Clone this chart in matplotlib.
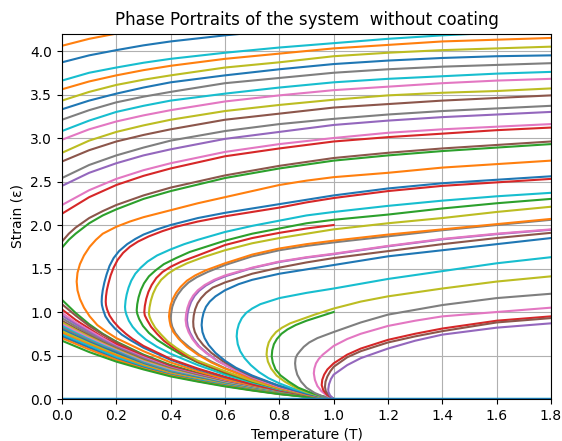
import matplotlib
matplotlib.use("Agg")
import matplotlib.pyplot as plt

# Upper branches that enter through the left edge (T = 0), top to bottom
edge_colors = ["tab:orange", "tab:blue", "tab:cyan", "tab:orange", "tab:olive",
               "tab:blue", "tab:gray", "tab:cyan", "tab:pink", "tab:olive",
               "tab:brown", "tab:gray", "tab:purple", "tab:pink", "tab:red",
               "tab:brown", "tab:green"]
grid_t = [0.0, 0.1, 0.2, 0.3, 0.4, 0.6, 0.8, 1.0, 1.2, 1.4, 1.6, 1.8]
fine_t = [0.0, 0.025, 0.05, 0.1, 0.15, 0.2, 0.3, 0.4, 0.6, 0.8, 1.0, 1.2, 1.4, 1.6, 1.8]
edge_t = [[0.0, 0.1, 0.2, 0.3], [0.0, 0.1, 0.2, 0.3, 0.4, 0.6, 0.8]] + [grid_t] * 13 + [fine_t] * 2
edge_eps = [
    [4.06, 4.14, 4.20, 4.25],
    [3.87, 3.95, 4.01, 4.065, 4.11, 4.18, 4.24],
    [3.66, 3.75, 3.81, 3.865, 3.91, 3.98, 4.04, 4.09, 4.14, 4.18, 4.21, 4.24],
    [3.56, 3.65, 3.72, 3.78, 3.83, 3.91, 3.97, 4.03, 4.07, 4.11, 4.13, 4.15],
    [3.43, 3.53, 3.61, 3.67, 3.72, 3.81, 3.87, 3.94, 3.98, 4.01, 4.03, 4.05],
    [3.33, 3.43, 3.51, 3.58, 3.64, 3.72, 3.79, 3.85, 3.89, 3.92, 3.94, 3.95],
    [3.21, 3.32, 3.41, 3.475, 3.53, 3.63, 3.69, 3.75, 3.79, 3.82, 3.84, 3.86],
    [3.08, 3.20, 3.30, 3.37, 3.43, 3.51, 3.58, 3.64, 3.68, 3.71, 3.74, 3.76],
    [2.98, 3.10, 3.19, 3.26, 3.32, 3.42, 3.49, 3.55, 3.59, 3.63, 3.66, 3.68],
    [2.83, 2.97, 3.07, 3.145, 3.21, 3.31, 3.38, 3.44, 3.49, 3.52, 3.54, 3.57],
    [2.73, 2.86, 2.96, 3.035, 3.10, 3.21, 3.28, 3.35, 3.39, 3.43, 3.46, 3.49],
    [2.54, 2.69, 2.80, 2.89, 2.97, 3.08, 3.16, 3.22, 3.27, 3.31, 3.34, 3.37],
    [2.45, 2.60, 2.71, 2.80, 2.87, 2.99, 3.07, 3.15, 3.20, 3.24, 3.27, 3.30],
    [2.23, 2.40, 2.53, 2.63, 2.71, 2.84, 2.93, 3.00, 3.06, 3.10, 3.13, 3.16],
    [2.13, 2.32, 2.46, 2.565, 2.65, 2.79, 2.88, 2.96, 3.01, 3.05, 3.09, 3.12],
    [1.81, 1.90, 1.97, 2.08, 2.16, 2.23, 2.34, 2.43, 2.57, 2.68, 2.77, 2.83, 2.88, 2.92, 2.96],
    [1.74, 1.83, 1.90, 2.02, 2.11, 2.18, 2.30, 2.39, 2.54, 2.65, 2.74, 2.80, 2.85, 2.89, 2.93],
]

# Lower branches leaving the left edge and running into (1, 0)
fan_t = [0.0, 0.05, 0.1, 0.15, 0.2, 0.3, 0.4, 0.5, 0.6, 0.7, 0.8, 0.9, 1.0]
fan_colors = ["tab:green", "tab:brown", "tab:red", "tab:pink", "tab:purple",
              "tab:gray", "tab:brown", "tab:olive", "tab:pink", "tab:cyan",
              "tab:gray", "tab:blue", "tab:olive", "tab:orange", "tab:cyan",
              "tab:blue", "tab:orange", "tab:green"]
fan_eps = [
    [1.14, 0.99, 0.86, 0.75, 0.66, 0.51, 0.39, 0.30, 0.22, 0.150, 0.090, 0.040, 0.0],
    [1.09, 0.96, 0.84, 0.74, 0.65, 0.50, 0.38, 0.29, 0.215, 0.147, 0.088, 0.039, 0.0],
    [1.03, 0.91, 0.81, 0.71, 0.63, 0.49, 0.37, 0.285, 0.21, 0.144, 0.086, 0.038, 0.0],
    [0.99, 0.88, 0.79, 0.70, 0.61, 0.48, 0.36, 0.28, 0.205, 0.140, 0.084, 0.037, 0.0],
    [0.96, 0.86, 0.77, 0.68, 0.60, 0.47, 0.355, 0.275, 0.20, 0.137, 0.082, 0.036, 0.0],
    [0.93, 0.835, 0.75, 0.665, 0.59, 0.46, 0.35, 0.27, 0.196, 0.134, 0.080, 0.035, 0.0],
    [0.90, 0.81, 0.73, 0.65, 0.58, 0.45, 0.345, 0.265, 0.192, 0.131, 0.078, 0.034, 0.0],
    [0.88, 0.795, 0.715, 0.64, 0.57, 0.44, 0.34, 0.26, 0.188, 0.128, 0.076, 0.033, 0.0],
    [0.86, 0.78, 0.70, 0.63, 0.56, 0.43, 0.33, 0.255, 0.184, 0.125, 0.074, 0.032, 0.0],
    [0.84, 0.76, 0.685, 0.615, 0.55, 0.42, 0.32, 0.25, 0.180, 0.122, 0.072, 0.031, 0.0],
    [0.82, 0.745, 0.67, 0.60, 0.54, 0.41, 0.31, 0.245, 0.176, 0.119, 0.070, 0.030, 0.0],
    [0.80, 0.725, 0.655, 0.59, 0.53, 0.40, 0.30, 0.24, 0.172, 0.116, 0.068, 0.029, 0.0],
    [0.78, 0.71, 0.64, 0.575, 0.51, 0.39, 0.295, 0.232, 0.168, 0.113, 0.066, 0.028, 0.0],
    [0.76, 0.69, 0.625, 0.56, 0.50, 0.38, 0.29, 0.225, 0.164, 0.110, 0.064, 0.027, 0.0],
    [0.74, 0.675, 0.61, 0.545, 0.48, 0.37, 0.28, 0.218, 0.160, 0.107, 0.062, 0.026, 0.0],
    [0.72, 0.655, 0.59, 0.525, 0.46, 0.36, 0.275, 0.21, 0.155, 0.104, 0.060, 0.026, 0.0],
    [0.70, 0.635, 0.57, 0.51, 0.45, 0.35, 0.27, 0.205, 0.150, 0.101, 0.058, 0.025, 0.0],
    [0.67, 0.605, 0.54, 0.485, 0.43, 0.34, 0.26, 0.20, 0.145, 0.098, 0.056, 0.024, 0.0],
]

# Trajectories with a turning point inside the frame, listed from (1, 0)
# along the lower branch, round the nose, then out along the upper branch
nose_colors = ["tab:orange", "tab:blue", "tab:red", "tab:cyan", "tab:green",
               "tab:red", "tab:olive", "tab:gray", "tab:orange", "tab:purple",
               "tab:pink", "tab:brown", "tab:blue", "tab:cyan", "tab:olive",
               "tab:green", "tab:gray", "tab:pink", "tab:red", "tab:brown",
               "tab:purple"]
nose_t = [
    [1.0, 0.9, 0.8, 0.7, 0.6, 0.5, 0.4, 0.3, 0.2, 0.165, 0.13, 0.102, 0.081, 0.066, 0.057, 0.054,
     0.057, 0.066, 0.081, 0.102, 0.125, 0.15, 0.2, 0.25, 0.3, 0.4, 0.5, 0.6, 0.7, 0.8, 0.9, 1.0, 1.2, 1.4, 1.6, 1.8],
    [1.0, 0.9, 0.8, 0.7, 0.6, 0.5, 0.4, 0.3, 0.25, 0.22, 0.195, 0.175, 0.16, 0.151, 0.147, 0.146,
     0.147, 0.15, 0.156, 0.164, 0.175, 0.19, 0.21, 0.24, 0.27, 0.3, 0.35, 0.4, 0.5, 0.6, 0.7, 0.8, 0.9, 1.0, 1.2, 1.4, 1.6, 1.8],
    [1.0, 0.9, 0.8, 0.7, 0.6, 0.5, 0.4, 0.3, 0.26, 0.235, 0.21, 0.19, 0.175, 0.166, 0.162, 0.161,
     0.162, 0.165, 0.171, 0.179, 0.19, 0.205, 0.225, 0.25, 0.28, 0.32, 0.37, 0.42, 0.5, 0.6, 0.7, 0.8, 0.9, 1.0, 1.2, 1.4, 1.6, 1.8],
    [1.0, 0.9, 0.8, 0.7, 0.6, 0.5, 0.4, 0.35, 0.31, 0.28, 0.26, 0.246, 0.237, 0.233, 0.232,
     0.234, 0.238, 0.245, 0.255, 0.27, 0.29, 0.315, 0.35, 0.4, 0.45, 0.5, 0.6, 0.7, 0.8, 0.9, 1.0, 1.2, 1.4, 1.6, 1.8],
    [1.0, 0.9, 0.8, 0.7, 0.6, 0.5, 0.44, 0.39, 0.35, 0.32, 0.298, 0.284, 0.277, 0.275,
     0.277, 0.282, 0.29, 0.302, 0.32, 0.345, 0.375, 0.42, 0.47, 0.54, 0.6, 0.7, 0.8, 0.9, 1.0, 1.2, 1.4, 1.6, 1.8],
    [1.0, 0.9, 0.8, 0.7, 0.6, 0.5, 0.45, 0.41, 0.375, 0.35, 0.328, 0.313, 0.305, 0.303,
     0.305, 0.31, 0.318, 0.33, 0.347, 0.37, 0.4, 0.44, 0.5, 0.6, 0.7, 0.8, 0.9, 1.0],
    [1.0, 0.9, 0.8, 0.7, 0.6, 0.5, 0.46, 0.42, 0.39, 0.365, 0.343, 0.33, 0.323, 0.32,
     0.322, 0.327, 0.335, 0.347, 0.365, 0.39, 0.42, 0.46, 0.52, 0.6, 0.7, 0.8, 0.9, 1.0, 1.2, 1.4, 1.6, 1.8],
    [1.0, 0.9, 0.8, 0.7, 0.6, 0.55, 0.505, 0.467, 0.437, 0.417, 0.406, 0.402, 0.4,
     0.402, 0.406, 0.414, 0.426, 0.443, 0.466, 0.496, 0.536, 0.6, 0.7, 0.8, 0.9, 1.0, 1.2, 1.4, 1.6, 1.8],
    [1.0, 0.9, 0.8, 0.7, 0.6, 0.55, 0.5, 0.46, 0.43, 0.41, 0.4, 0.396, 0.394,
     0.396, 0.4, 0.408, 0.42, 0.437, 0.46, 0.49, 0.53, 0.6, 0.7, 0.8, 0.9, 1.0, 1.2, 1.4, 1.6, 1.8],
    [1.0, 0.9, 0.8, 0.7, 0.625, 0.575, 0.535, 0.505, 0.485, 0.471, 0.463, 0.46,
     0.462, 0.467, 0.475, 0.488, 0.505, 0.53, 0.565, 0.605, 0.7, 0.8, 0.9, 1.0, 1.2, 1.4, 1.6, 1.8],
    [1.0, 0.9, 0.8, 0.7, 0.62, 0.57, 0.53, 0.5, 0.48, 0.466, 0.458, 0.455,
     0.457, 0.462, 0.47, 0.483, 0.5, 0.525, 0.56, 0.6, 0.7, 0.8, 0.9, 1.0, 1.2, 1.4, 1.6, 1.8],
    [1.0, 0.9, 0.8, 0.7, 0.64, 0.59, 0.55, 0.52, 0.5, 0.489, 0.484, 0.483,
     0.485, 0.49, 0.499, 0.512, 0.53, 0.555, 0.6, 0.7, 0.8, 0.9, 1.0, 1.2, 1.4, 1.6, 1.8],
    [1.0, 0.9, 0.8, 0.7, 0.64, 0.6, 0.565, 0.54, 0.525, 0.517, 0.514,
     0.516, 0.521, 0.53, 0.544, 0.565, 0.6, 0.65, 0.7, 0.8, 0.9, 1.0, 1.2, 1.4, 1.6, 1.8],
    [1.0, 0.95, 0.9, 0.85, 0.8, 0.76, 0.725, 0.695, 0.672, 0.656, 0.647, 0.643,
     0.645, 0.651, 0.662, 0.678, 0.7, 0.73, 0.77, 0.8, 0.9, 1.0, 1.2, 1.4, 1.6, 1.8],
    [1.0, 0.95, 0.9, 0.86, 0.82, 0.79, 0.77, 0.758, 0.753,
     0.755, 0.761, 0.772, 0.788, 0.81, 0.84, 0.876, 0.93, 1.0, 1.1, 1.2, 1.4, 1.6, 1.8],
    [1.0, 0.955, 0.91, 0.87, 0.835, 0.805, 0.786, 0.776, 0.772,
     0.774, 0.78, 0.791, 0.808, 0.83, 0.86, 0.9, 0.95, 1.0],
    [1.0, 0.96, 0.93, 0.9, 0.88, 0.866, 0.86, 0.858,
     0.86, 0.866, 0.876, 0.89, 0.91, 0.94, 1.0, 1.1, 1.2, 1.4, 1.6, 1.8],
    [1.0, 0.975, 0.955, 0.94, 0.931, 0.927,
     0.929, 0.935, 0.945, 0.96, 0.98, 1.0, 1.05, 1.1, 1.2, 1.3, 1.4, 1.6, 1.8],
    [1.0, 0.975, 0.962, 0.956, 0.958, 0.965, 0.977, 1.0, 1.05, 1.1, 1.2, 1.3, 1.4, 1.6, 1.8],
    [1.0, 0.982, 0.971, 0.968, 0.970, 0.977, 0.988, 1.0, 1.05, 1.1, 1.2, 1.3, 1.4, 1.6, 1.8],
    [1.0, 0.987, 0.981, 0.98, 0.983, 0.99, 1.0, 1.05, 1.1, 1.2, 1.3, 1.4, 1.6, 1.8],
]
nose_eps = [
    [0.0, 0.045, 0.10, 0.16, 0.23, 0.32, 0.42, 0.55, 0.70, 0.77, 0.85, 0.95, 1.05, 1.15, 1.25, 1.35,
     1.45, 1.55, 1.65, 1.75, 1.83, 1.90, 1.98, 2.04, 2.09, 2.17, 2.25, 2.32, 2.39, 2.46, 2.51, 2.55, 2.60, 2.66, 2.70, 2.74],
    [0.0, 0.045, 0.10, 0.17, 0.25, 0.34, 0.45, 0.59, 0.68, 0.74, 0.81, 0.88, 0.95, 1.03, 1.08, 1.12,
     1.18, 1.25, 1.34, 1.43, 1.53, 1.62, 1.70, 1.78, 1.84, 1.89, 1.95, 2.00, 2.08, 2.14, 2.19, 2.24, 2.29, 2.34, 2.42, 2.48, 2.52, 2.56],
    [0.0, 0.046, 0.10, 0.17, 0.255, 0.35, 0.46, 0.61, 0.69, 0.75, 0.82, 0.89, 0.96, 1.03, 1.08, 1.12,
     1.18, 1.25, 1.33, 1.42, 1.51, 1.60, 1.68, 1.75, 1.81, 1.87, 1.93, 1.98, 2.04, 2.10, 2.15, 2.20, 2.26, 2.31, 2.39, 2.45, 2.49, 2.53],
    [0.0, 0.05, 0.11, 0.19, 0.28, 0.39, 0.52, 0.60, 0.68, 0.76, 0.83, 0.90, 0.97, 1.02, 1.06,
     1.13, 1.20, 1.28, 1.36, 1.44, 1.51, 1.58, 1.65, 1.72, 1.78, 1.83, 1.92, 1.99, 2.05, 2.11, 2.15, 2.22, 2.28, 2.33, 2.37],
    [0.0, 0.05, 0.12, 0.20, 0.30, 0.42, 0.51, 0.60, 0.68, 0.76, 0.84, 0.92, 0.98, 1.02,
     1.09, 1.17, 1.25, 1.33, 1.41, 1.48, 1.55, 1.62, 1.69, 1.76, 1.82, 1.90, 1.96, 2.02, 2.06, 2.12, 2.19, 2.25, 2.30],
    [0.0, 0.05, 0.12, 0.21, 0.31, 0.43, 0.51, 0.59, 0.67, 0.75, 0.83, 0.91, 0.96, 1.00,
     1.07, 1.15, 1.23, 1.31, 1.39, 1.46, 1.52, 1.58, 1.65, 1.77, 1.85, 1.91, 1.96, 2.00],
    [0.0, 0.05, 0.12, 0.21, 0.32, 0.44, 0.51, 0.59, 0.66, 0.74, 0.82, 0.89, 0.94, 0.98,
     1.05, 1.13, 1.21, 1.29, 1.37, 1.44, 1.50, 1.56, 1.63, 1.71, 1.79, 1.85, 1.90, 1.95, 2.02, 2.08, 2.15, 2.21],
    [0.0, 0.056, 0.13, 0.235, 0.355, 0.43, 0.51, 0.60, 0.68, 0.76, 0.83, 0.88, 0.93,
     0.99, 1.06, 1.13, 1.20, 1.27, 1.34, 1.40, 1.46, 1.54, 1.64, 1.71, 1.76, 1.80, 1.87, 1.94, 2.00, 2.06],
    [0.0, 0.055, 0.13, 0.23, 0.35, 0.42, 0.51, 0.60, 0.69, 0.77, 0.84, 0.90, 0.95,
     1.01, 1.08, 1.15, 1.22, 1.29, 1.36, 1.42, 1.48, 1.56, 1.66, 1.73, 1.78, 1.82, 1.89, 1.95, 2.01, 2.07],
    [0.0, 0.06, 0.14, 0.245, 0.355, 0.435, 0.525, 0.605, 0.685, 0.765, 0.835, 0.905,
     0.975, 1.045, 1.115, 1.185, 1.245, 1.305, 1.365, 1.415, 1.505, 1.575, 1.625, 1.665, 1.755, 1.835, 1.895, 1.945],
    [0.0, 0.06, 0.14, 0.25, 0.36, 0.44, 0.53, 0.61, 0.69, 0.77, 0.84, 0.91,
     0.98, 1.05, 1.12, 1.19, 1.25, 1.31, 1.37, 1.42, 1.51, 1.58, 1.63, 1.67, 1.76, 1.84, 1.90, 1.95],
    [0.0, 0.06, 0.15, 0.26, 0.35, 0.44, 0.53, 0.62, 0.70, 0.77, 0.83, 0.89,
     0.96, 1.03, 1.10, 1.16, 1.22, 1.28, 1.34, 1.44, 1.51, 1.57, 1.62, 1.70, 1.78, 1.85, 1.91],
    [0.0, 0.065, 0.15, 0.27, 0.36, 0.44, 0.53, 0.62, 0.70, 0.77, 0.85,
     0.92, 0.99, 1.06, 1.12, 1.18, 1.25, 1.32, 1.37, 1.44, 1.49, 1.54, 1.64, 1.71, 1.78, 1.85],
    [0.0, 0.035, 0.075, 0.12, 0.18, 0.24, 0.31, 0.39, 0.47, 0.55, 0.63, 0.72,
     0.79, 0.86, 0.93, 0.99, 1.04, 1.09, 1.13, 1.16, 1.22, 1.27, 1.38, 1.47, 1.56, 1.63],
    [0.0, 0.035, 0.08, 0.13, 0.20, 0.27, 0.35, 0.43, 0.51,
     0.58, 0.65, 0.71, 0.77, 0.82, 0.87, 0.91, 0.97, 1.04, 1.12, 1.18, 1.27, 1.35, 1.41],
    [0.0, 0.035, 0.08, 0.13, 0.20, 0.27, 0.34, 0.42, 0.49,
     0.56, 0.63, 0.69, 0.75, 0.80, 0.85, 0.90, 0.95, 1.00],
    [0.0, 0.03, 0.07, 0.13, 0.20, 0.28, 0.35, 0.41,
     0.47, 0.51, 0.55, 0.60, 0.65, 0.70, 0.77, 0.88, 0.97, 1.08, 1.16, 1.21],
    [0.0, 0.04, 0.09, 0.15, 0.22, 0.295,
     0.35, 0.41, 0.46, 0.51, 0.56, 0.61, 0.69, 0.75, 0.84, 0.90, 0.95, 1.00, 1.05],
    [0.0, 0.05, 0.10, 0.16, 0.22, 0.28, 0.34, 0.41, 0.51, 0.58, 0.68, 0.75, 0.81, 0.90, 0.95],
    [0.0, 0.045, 0.09, 0.14, 0.20, 0.26, 0.32, 0.37, 0.48, 0.55, 0.65, 0.72, 0.78, 0.88, 0.93],
    [0.0, 0.04, 0.08, 0.11, 0.17, 0.23, 0.28, 0.39, 0.47, 0.58, 0.67, 0.74, 0.82, 0.87],
]

# Trajectories lying on the invariant line eps = 0
axis_colors = ["tab:cyan", "tab:blue"]
axis_t = [0.0, 1.8]
axis_eps = [0.0, 0.0]


fig = plt.figure(figsize=(5.62, 4.41), dpi=100)
ax = fig.add_axes([0.1103, 0.0952, 0.8701, 0.8286])

style = dict(linewidth=1.5, solid_joinstyle="round")
for color, eps in zip(fan_colors, fan_eps):
    ax.plot(fan_t, eps, color=color, **style)
for color, t, eps in zip(nose_colors, nose_t, nose_eps):
    ax.plot(t, eps, color=color, **style)
for color, t, eps in zip(edge_colors, edge_t, edge_eps):
    ax.plot(t, eps, color=color, **style)
for color, lw in zip(axis_colors, [2.5, 1.5]):
    ax.plot(axis_t, axis_eps, color=color, linewidth=lw)

ax.set_xlim(0, 1.8)
ax.set_ylim(0, 4.2)
ax.set_title("Phase Portraits of the system  without coating")
ax.set_xlabel("Temperature (T)")
ax.set_ylabel("Strain (ε)")
ax.grid(True)

fig.savefig("out.png", dpi=100)
